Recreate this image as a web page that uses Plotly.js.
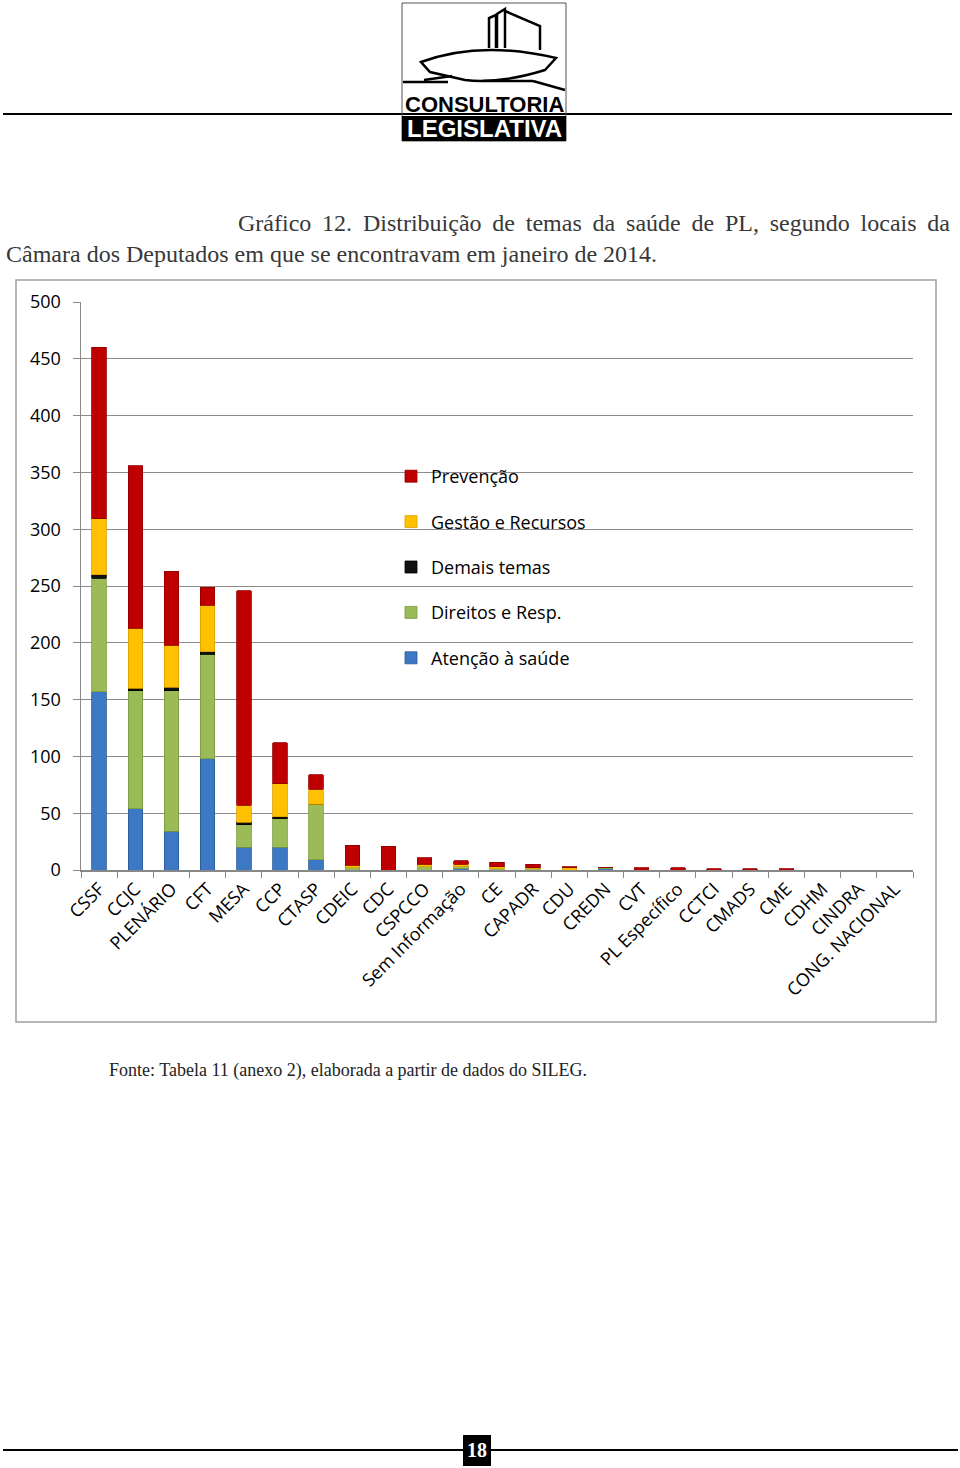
<!DOCTYPE html>
<html>
<head>
<meta charset="utf-8">
<script src="https://cdn.plot.ly/plotly-3.0.1.min.js"></script>
<style>
html,body{margin:0;padding:0;background:#fff;}
#chart{width:960px;height:1468px;}
</style>
</head>
<body>
<div id="chart"></div>
<script>
const categories = ["CSSF","CCJC","PLENÁRIO","CFT","MESA","CCP","CTASP","CDEIC","CDC","CSPCCO","Sem Informação","CE","CAPADR","CDU","CREDN","CVT","PL Específico","CCTCI","CMADS","CME","CDHM","CINDRA","CONG. NACIONAL"];
const atencao   = [157, 54, 34, 98, 20, 20,  9, 0,  0, 0, 1, 0, 0, 0, 1, 0, 0, 0, 0, 0, 0, 0, 0];
const direitos  = [100,104,124, 92, 20, 25, 49, 2,  0, 3, 2, 1, 1, 0, 1, 0, 0, 0, 0, 0, 0, 0, 0];
const demais    = [  3,  2,  3,  2,  2,  2,  0, 0,  0, 0, 0, 0, 0, 0, 0, 0, 0, 0, 0, 0, 0, 0, 0];
const gestao    = [ 49, 53, 37, 41, 15, 29, 13, 2,  0, 2, 2, 2, 1, 2, 0, 0, 0, 0, 0, 0, 0, 0, 0];
const prevencao = [151,143, 65, 16,189, 36, 13,18, 21, 6, 3, 4, 3, 1, 0, 2, 2, 1, 1, 1, 0, 0, 0];
const seriesNames = ["Atenção à saúde","Direitos e Resp.","Demais temas","Gestão e Recursos","Prevenção"];
const seriesColors = ["#3C78C3","#9BBB59","#111111","#FFC000","#C00000"];
const seriesLines = ["#2A5A96","#7A9A40","#000000","#D9A000","#900000"];
const yTicks = [0,50,100,150,200,250,300,350,400,450,500];

const values = [atencao, direitos, demais, gestao, prevencao];
const traces = values.map((v,i)=>({
  type:'bar', x:categories, y:v, name:seriesNames[i], legendgroup:'g'+i, legendrank: 5-i,
  marker:{color:seriesColors[i], line:{color:seriesLines[i], width:0.8}},
  hoverinfo:'x+y+name'
}));

const serif = "Liberation Serif, DejaVu Serif, serif";
const sans = "Open Sans, Noto Sans, sans-serif";
const logoFont = "Liberation Sans, Arial, sans-serif";
const titleColor = "#383838";

function px(x){ return (x-81)/(913-81); }
function py(y){ return (870-y)/(870-302); }
function svgPath(pts){ return 'M '+pts.map(p=>px(p[0])+','+py(p[1])).join(' L '); }

const shapes = [
  {type:'line', xref:'paper', yref:'paper', x0:px(3), x1:px(952), y0:py(114), y1:py(114), line:{color:'#000', width:2}},
  {type:'rect', xref:'paper', yref:'paper', x0:px(402), x1:px(566), y0:py(3), y1:py(141), line:{color:'#555', width:1}, fillcolor:'rgba(0,0,0,0)'},
  {type:'path', xref:'paper', yref:'paper', path: svgPath([[489,48],[489,18],[496,15],[496,48]]), line:{color:'#000', width:2.5}},
  {type:'path', xref:'paper', yref:'paper', path: svgPath([[497,48],[497,14],[505,9],[505,48]]), line:{color:'#000', width:2.5}},
  {type:'path', xref:'paper', yref:'paper', path: svgPath([[505,11],[540,26],[540,50]]), line:{color:'#000', width:2.5}},
  {type:'path', xref:'paper', yref:'paper', path: 'M '+px(421)+','+py(62)+' Q '+px(480)+','+py(40)+' '+px(556)+','+py(58)+' L '+px(545)+','+py(70)+' Q '+px(500)+','+py(84)+' '+px(465)+','+py(80)+' L '+px(430)+','+py(72)+' Z', line:{color:'#000', width:2.5}},
  {type:'line', xref:'paper', yref:'paper', x0:px(424), x1:px(452), y0:py(80), y1:py(76), line:{color:'#000', width:2.5}},
  {type:'line', xref:'paper', yref:'paper', x0:px(403), x1:px(448), y0:py(82), y1:py(82), line:{color:'#000', width:2.5}},
  {type:'line', xref:'paper', yref:'paper', x0:px(483), x1:px(533), y0:py(81), y1:py(81), line:{color:'#000', width:2.5}},
  {type:'line', xref:'paper', yref:'paper', x0:px(533), x1:px(565), y0:py(81), y1:py(90), line:{color:'#000', width:2.5}},
  {type:'rect', xref:'paper', yref:'paper', x0:px(402), x1:px(566), y0:py(116), y1:py(141), line:{width:0}, fillcolor:'#000'},
  {type:'rect', xref:'paper', yref:'paper', x0:px(16), x1:px(936), y0:py(280), y1:py(1022), line:{color:'#A0A0A0', width:1.5}, fillcolor:'rgba(0,0,0,0)'},
  {type:'line', xref:'paper', yref:'paper', x0:px(3), x1:px(958), y0:py(1450), y1:py(1450), line:{color:'#000', width:2}},
  {type:'rect', xref:'paper', yref:'paper', x0:px(463), x1:px(491), y0:py(1435), y1:py(1466), line:{width:0}, fillcolor:'#000'}
];

const sp = ' \u2009';
const annotations = [
  {xref:'paper', yref:'paper', x:px(484), y:py(105), text:'<b>CONSULTORIA</b>', showarrow:false, xanchor:'center', yanchor:'middle', font:{family:logoFont, size:22, color:'#000'}},
  {xref:'paper', yref:'paper', x:px(484), y:py(129), text:'<b>LEGISLATIVA</b>', showarrow:false, xanchor:'center', yanchor:'middle', font:{family:logoFont, size:24, color:'#fff'}},
  {xref:'paper', yref:'paper', x:px(952), y:py(223), text:['Gráfico','12.','Distribuição','de','temas','da','saúde','de','PL,','segundo','locais','da'].join(sp), showarrow:false, xanchor:'right', yanchor:'middle', font:{family:serif, size:24, color:titleColor}},
  {xref:'paper', yref:'paper', x:px(4), y:py(254), text:'Câmara dos Deputados em que se encontravam em janeiro de 2014.', showarrow:false, xanchor:'left', yanchor:'middle', font:{family:serif, size:24, color:titleColor}},
  {xref:'paper', yref:'paper', x:px(107), y:py(1070), text:'Fonte: Tabela 11 (anexo 2), elaborada a partir de dados do SILEG.', showarrow:false, xanchor:'left', yanchor:'middle', font:{family:serif, size:18, color:'#222'}},
  {xref:'paper', yref:'paper', x:px(477), y:py(1450), text:'<b>18</b>', showarrow:false, xanchor:'center', yanchor:'middle', font:{family:'Liberation Serif, serif', size:20, color:'#fff'}}
];

const layout = {
  width:960, height:1468,
  margin:{l:81, r:47, t:302, b:598},
  paper_bgcolor:'#fff', plot_bgcolor:'#fff',
  barmode:'stack', bargap:0.6,
  showlegend:true,
  legend:{x:px(391), y:py(458), xanchor:'left', yanchor:'top', traceorder:'grouped', tracegroupgap:19, font:{family:sans, size:18, color:'#000'}, bgcolor:'rgba(0,0,0,0)'},
  xaxis:{type:'category', tickangle:-45, tickson:'boundaries', ticks:'outside', ticklen:6, tickcolor:'#888', showline:true, linecolor:'#888', linewidth:1.5, tickfont:{family:sans, size:18, color:'#000'}, automargin:false},
  yaxis:{range:[0,500], tickvals:yTicks, ticks:'outside', ticklen:7, tickcolor:'#888', showline:true, linecolor:'#888', linewidth:1.5, showgrid:true, gridcolor:'#8C8C8C', gridwidth:1, tickfont:{family:sans, size:18, color:'#000'}, ticklabelstandoff:8, zeroline:false, automargin:false},
  shapes:shapes, annotations:annotations
};

Plotly.newPlot('chart', traces, layout, {displayModeBar:false, staticPlot:true});
</script>
</body>
</html>
